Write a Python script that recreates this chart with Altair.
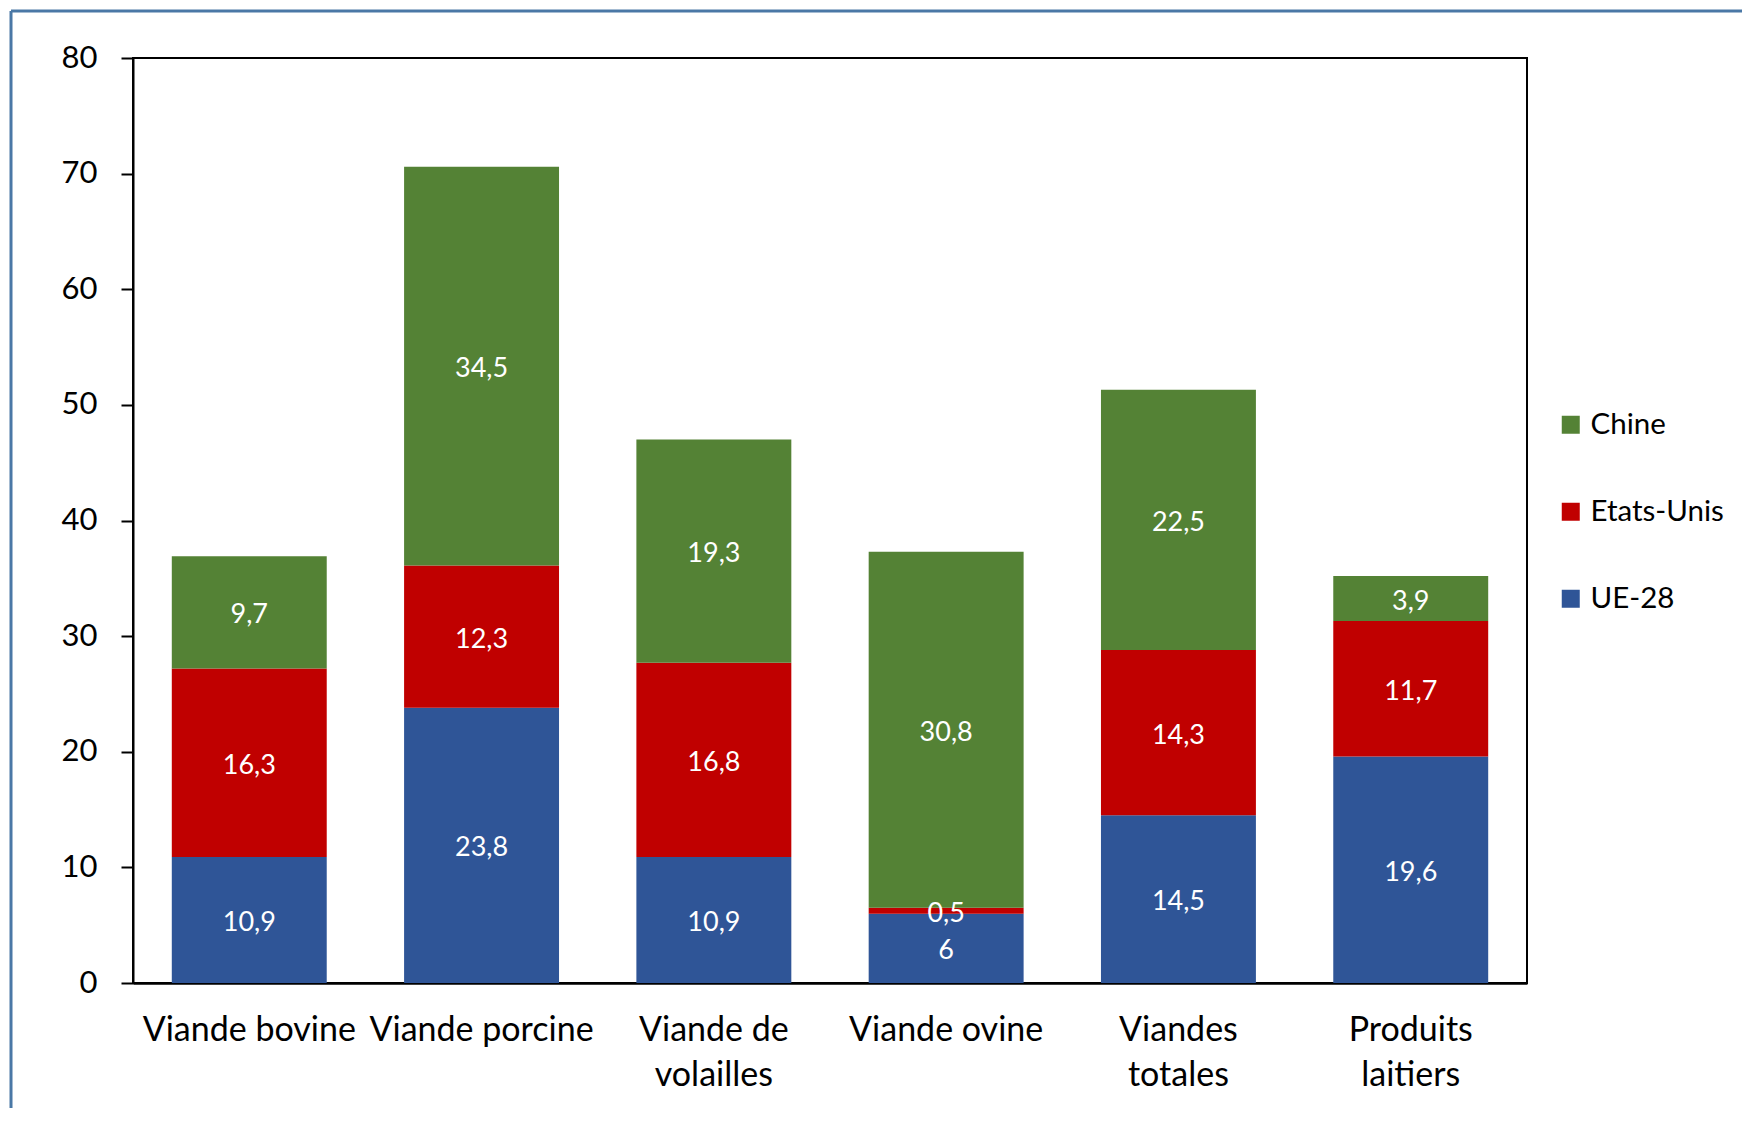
import altair as alt
import pandas as pd

categories = ["Viande bovine", "Viande porcine", "Viande de\nvolailles", "Viande ovine", "Viandes\ntotales", "Produits\nlaitiers"]
series = ["UE-28", "Etats-Unis", "Chine"]
ue28 = [10.9, 23.8, 10.9, 6, 14.5, 19.6]
etats_unis = [16.3, 12.3, 16.8, 0.5, 14.3, 11.7]
chine = [9.7, 34.5, 19.3, 30.8, 22.5, 3.9]
y_ticks = [0, 10, 20, 30, 40, 50, 60, 70, 80]

legend_order = ["Chine", "Etats-Unis", "UE-28"]
colors = ["#548235", "#C00000", "#2F5597"]

rows = []
for s_i, (name, vals) in enumerate(zip(series, [ue28, etats_unis, chine])):
    for c, v in zip(categories, vals):
        rows.append({"cat": c, "serie": name, "value": v, "ord": s_i})
df = pd.DataFrame(rows)

FONT = "Lato"
W, H = 1394, 925

base = alt.Chart(df).transform_stack(
    stack="value", groupby=["cat"], as_=["y0", "y1"], sort=[alt.SortField("ord", order="ascending")]
).transform_calculate(
    ymid="(datum.y0 + datum.y1) / 2",
    lbl="replace(format(datum.value, '.1~f'), '.', ',')",
)

x_enc = alt.X(
    "cat:N",
    sort=categories,
    scale=alt.Scale(paddingInner=0.333, paddingOuter=0.167),
    axis=alt.Axis(
        title=None, labelAngle=0, ticks=False, domain=True, domainColor="black", domainWidth=2.5,
        labelExpr="split(datum.label, '\\n')", labelFont=FONT, labelFontSize=34,
        labelColor="black", labelPadding=30, labelLineHeight=45, labelLimit=400,
    ),
)

bars = base.mark_bar().encode(
    x=x_enc,
    y=alt.Y(
        "y0:Q",
        scale=alt.Scale(domain=[0, 80], nice=False),
        axis=alt.Axis(
            title=None, values=y_ticks, grid=False, tickSize=12, tickWidth=2, tickColor="black",
            domainColor="black", domainWidth=2, labelFont=FONT, labelFontSize=31,
            labelColor="black", labelPadding=24,
        ),
    ),
    y2="y1:Q",
    color=alt.Color(
        "serie:N",
        scale=alt.Scale(domain=legend_order, range=colors),
        legend=alt.Legend(
            title=None, orient="none", legendX=1423, legendY=352, symbolType="square",
            symbolSize=324, symbolStrokeWidth=0, labelFont=FONT, labelFontSize=29.5,
            labelColor="black", rowPadding=56, labelOffset=5,
        ),
    ),
    order=alt.Order("ord:Q"),
)

texts = base.mark_text(color="white", font=FONT, fontSize=27, dy=3).encode(
    x=alt.X("cat:N", sort=categories),
    y=alt.Y("ymid:Q"),
    text="lbl:N",
)

frame_data = alt.Data(values=[{"k": 1}])
frame_top = alt.Chart(frame_data).mark_rule(color="#4A78A6", strokeWidth=3).encode(
    x=alt.value(-122), x2=alt.value(1700), y=alt.value(-47)
)
frame_left = alt.Chart(frame_data).mark_rule(color="#4A78A6", strokeWidth=3).encode(
    x=alt.value(-122), y=alt.value(-47), y2=alt.value(1200)
)

chart = alt.layer(bars, texts, frame_top, frame_left).properties(
    width=W, height=H,
    autosize=alt.AutoSizeParams(type="none"),
    padding={"left": 125, "top": 50, "right": 215, "bottom": 125},
    background="white",
).configure_view(stroke="black", strokeWidth=2)

chart.save("out.html", embed_options={"renderer": "svg", "actions": False})
